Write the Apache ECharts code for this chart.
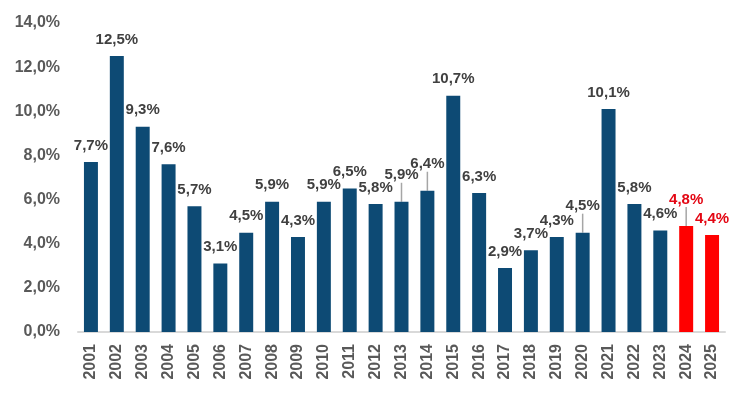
<!DOCTYPE html>
<html>
<head>
<meta charset="utf-8">
<style>
    html, body { margin: 0; padding: 0; background: #fff; }
    #chart { width: 749px; height: 397px; }
</style>
<script src="https://cdn.jsdelivr.net/npm/echarts@6/dist/echarts.min.js"></script>
</head>
<body>
<div id="chart"></div>
<script>
// 年份
var years = ['2001', '2002', '2003', '2004', '2005', '2006', '2007', '2008', '2009', '2010',
    '2011', '2012', '2013', '2014', '2015', '2016', '2017', '2018', '2019', '2020',
    '2021', '2022', '2023', '2024', '2025'];
// 数值 (%)
var values = [7.7, 12.5, 9.3, 7.6, 5.7, 3.1, 4.5, 5.9, 4.3, 5.9,
    6.5, 5.8, 5.9, 6.4, 10.7, 6.3, 2.9, 3.7, 4.3, 4.5,
    10.1, 5.8, 4.6, 4.8, 4.4];
// 红色的年份
var redYears = ['2024', '2025'];
// 标签带引导线的年份
var leaderYears = ['2013', '2014', '2020', '2024'];
// y轴刻度
var yTicks = [0, 2, 4, 6, 8, 10, 12, 14];

(function () {
    let myechart = echarts.init(document.getElementById('chart'));

    function fmt(v) {
        return v.toFixed(1).replace('.', ',') + '%';
    }

    let data = values.map(function (v, i) {
        let red = redYears.indexOf(years[i]) >= 0;
        let leader = leaderYears.indexOf(years[i]) >= 0;
        return {
            value: v,
            itemStyle: { color: red ? '#ff0000' : '#0d4a74' },
            label: { color: red ? '#e30613' : '#404040' },
            labelLine: { show: leader }
        };
    });

    var option = {
        animation: false,
        grid: {
            left: 78,
            right: 24,
            top: 23,
            bottom: 65
        },
        xAxis: {
            type: 'category',
            data: years,
            axisTick: { show: false },
            axisLine: {
                lineStyle: { color: '#d9d9d9', width: 2 }
            },
            axisLabel: {
                rotate: 90,
                margin: 12,
                color: '#595959',
                fontWeight: 'bold',
                fontSize: 16,
                fontFamily: 'Liberation Sans'
            }
        },
        yAxis: {
            type: 'value',
            min: yTicks[0],
            max: yTicks[yTicks.length - 1],
            interval: 2,
            splitLine: { show: false },
            axisLine: { show: false },
            axisTick: { show: false },
            axisLabel: {
                margin: 18,
                color: '#595959',
                fontWeight: 'bold',
                fontSize: 16,
                fontFamily: 'Liberation Sans',
                formatter: function (v) { return fmt(v); }
            }
        },
        series: [
            {
                type: 'bar',
                data: data,
                barWidth: '54%',
                label: {
                    show: true,
                    position: 'top',
                    distance: 9,
                    fontWeight: 'bold',
                    fontSize: 15,
                    fontFamily: 'Liberation Sans',
                    formatter: function (p) { return fmt(p.value); }
                },
                labelLine: {
                    show: false,
                    lineStyle: { color: '#a6a6a6', width: 1.5 }
                },
                labelLayout: function (params) {
                    if (leaderYears.indexOf(years[params.dataIndex]) >= 0) {
                        return { dy: -10 };
                    }
                }
            }
        ]
    };

    myechart.setOption(option);
})();
</script>
</body>
</html>
